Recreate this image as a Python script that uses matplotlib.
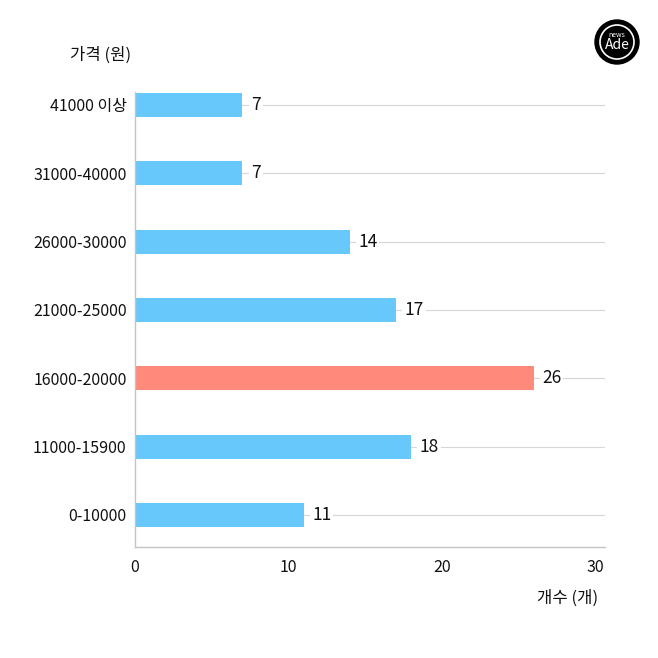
import matplotlib
matplotlib.use("Agg")
import matplotlib.pyplot as plt
from matplotlib.patches import Circle
from matplotlib.transforms import ScaledTranslation

plt.rcParams['font.family'] = ['Noto Sans CJK KR', 'DejaVu Sans']

categories = ["0-10000", "11000-15900", "16000-20000", "21000-25000",
              "26000-30000", "31000-40000", "41000 이상"]
counts = [11, 18, 26, 17, 14, 7, 7]
highlight = "16000-20000"
xticks = [0, 10, 20, 30]

blue = "#66c8fb"
red = "#ff8a7b"

fig = plt.figure(figsize=(6.58, 6.58), dpi=100)
ax = fig.add_axes([135/658, 1-547/658, (605-135)/658, (547-92)/658])

ypos = list(range(len(categories)))
colors = [red if c == highlight else blue for c in categories]

for y, v in zip(ypos, counts):
    ax.plot([0, 30.65], [y, y], color="#d6d6d6", lw=0.8, zorder=1, solid_capstyle="butt")
ax.barh(ypos, counts, height=0.35, color=colors, zorder=2)
for y, v in zip(ypos, counts):
    ax.text(v + 0.55, y, str(v), va="center", ha="left", fontsize=12.5, color="#111111",
            zorder=3, bbox=dict(boxstyle="square,pad=0.12", fc="white", ec="none"))

ax.set_xlim(0, 30.65)
ax.set_ylim(-0.47, 6.19)
ax.set_yticks(ypos)
ax.set_yticklabels(categories, fontsize=11.5, color="#111111")
ax.set_xticks(xticks)
ax.set_xticklabels([str(t) for t in xticks], fontsize=11.5, color="#111111")
shift = ScaledTranslation(4/100, 0, fig.dpi_scale_trans)
for lab in ax.get_xticklabels():
    lab.set_transform(lab.get_transform() + shift)
ax.tick_params(axis="both", length=0)
ax.tick_params(axis="y", pad=6)
ax.tick_params(axis="x", pad=9)
for s in ["top", "right"]:
    ax.spines[s].set_visible(False)
for s in ["left", "bottom"]:
    ax.spines[s].set_color("#c4c4c4")
    ax.spines[s].set_linewidth(1.0)

fig.text(70/658, 1-55/658, "가격 (원)", fontsize=12, ha="left", va="center", color="#111111")
fig.text(598/658, 1-598/658, "개수 (개)", fontsize=12, ha="right", va="center", color="#111111")

# logo
cx, cy = 617/658, 1-42/658
logo = Circle((cx, cy), 22/658, transform=fig.transFigure, facecolor="black",
              edgecolor="black", zorder=5)
fig.add_artist(logo)
ring = Circle((cx, cy), 17/658, transform=fig.transFigure, facecolor="none",
              edgecolor="white", lw=1.2, zorder=6)
fig.add_artist(ring)
fig.text(cx, cy + 7/658, "news", fontsize=5, color="white", ha="center", va="center",
         style="italic", zorder=7)
fig.text(cx, cy - 3/658, "Ade", fontsize=10, color="white", ha="center", va="center",
         style="italic", zorder=7)

fig.savefig("out.png", dpi=100, facecolor="white")
